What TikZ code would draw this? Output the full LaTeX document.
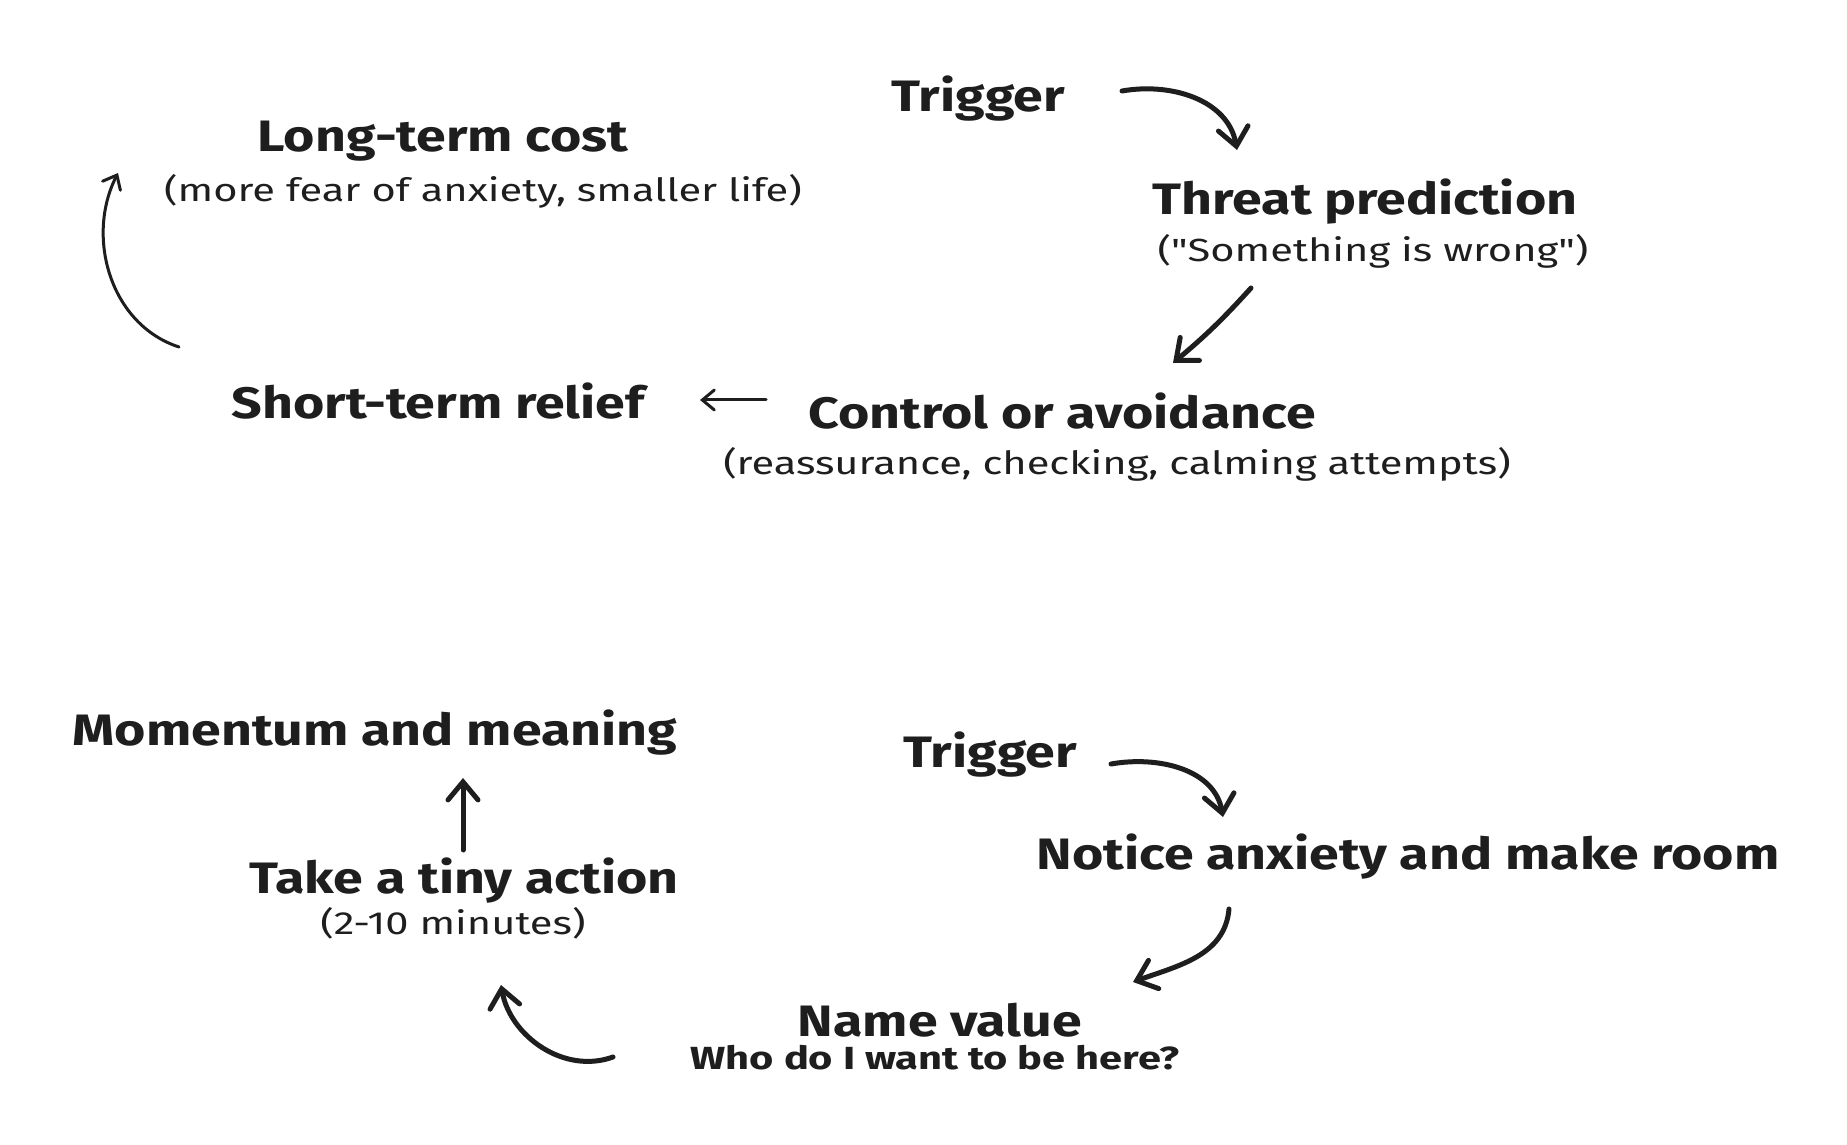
\documentclass[tikz,border=0pt]{standalone}
\usepackage{fontspec}
\setmainfont{Fira Sans}
\newfontfamily\titlefont[FakeStretch=1.22]{Fira Sans}
\newfontfamily\notefont[FakeStretch=1.3]{Fira Sans}
\usetikzlibrary{arrows.meta}
\definecolor{inkColor}{RGB}{30,30,30}
\tikzset{
  title/.style={text=inkColor,inner sep=0pt,outer sep=0pt,font=\titlefont\bfseries\fontsize{44}{52}\selectfont},
  note/.style={text=inkColor,inner sep=0pt,outer sep=0pt,font=\notefont\fontsize{32}{38}\selectfont},
  thick arrow/.style={draw=inkColor,line width=5pt,line cap=round,-{Straight Barb[length=18pt,width=30pt,line cap=round]}},
  thin arrow/.style={draw=inkColor,line width=3pt,line cap=round,-{Straight Barb[length=12pt,width=20pt,line cap=round]}}
}
\begin{document}
\begin{tikzpicture}[x=1pt,y=1pt]
\path[use as bounding box,fill=white] (0,0) rectangle (1847,1144);

% vicious cycle
\node[title] (trig1) at ( 978,1045) {Trigger};
\node[title] (threat) at (1365, 942) {Threat prediction};
\node[note]  (threatnote) at (1373, 893) {(\symbol{34}Something is wrong\symbol{34})};
\node[title] (control) at (1062, 733) {Control or avoidance};
\node[note]  (controlnote) at (1117, 680) {(reassurance, checking, calming attempts)};
\node[title] (relief) at ( 438, 743) {Short-term relief};
\node[title] (cost) at ( 443,1003) {Long-term cost};
\node[note]  (costnote) at ( 483, 953) {(more fear of anxiety, smaller life)};

\coordinate (trig1out) at (1122,1053);
\coordinate (threatin) at (1237, 994);
\coordinate (threatout) at (1251, 856);
\coordinate (controlin) at (1173, 781);
\coordinate (controlout) at ( 766, 744);
\coordinate (reliefin) at ( 700, 744);
\coordinate (reliefout) at ( 179, 797);
\coordinate (costin) at ( 118, 971);

\draw[thick arrow] (trig1out) to[out=10,in=100] (threatin);
\draw[thick arrow] (threatout) to[bend left=4] (controlin);
\draw[thin arrow] (controlout) -- (reliefin);
\draw[thin arrow] (reliefout) to[out=162,in=-117] (costin);

% values cycle
\node[title] (trig2) at ( 990, 389) {Trigger};
\node[title] (notice) at (1408, 287) {Notice anxiety and make room};
\node[title] (value) at ( 940, 124) {Name value};
\node[note,font=\notefont\bfseries\fontsize{32}{38}\selectfont] (valuenote) at ( 935,  86) {Who do I want to be here?};
\node[title] (tiny) at ( 464, 263) {Take a tiny action};
\node[note]  (tinynote) at ( 453, 221) {(2-10 minutes)};
\node[title] (momentum) at ( 375, 411) {Momentum and meaning};

\coordinate (trig2out) at (1111, 380);
\coordinate (noticein) at (1223, 327);
\coordinate (noticeout) at (1229, 235);
\coordinate (valuein) at (1133, 162);
\coordinate (valueout) at ( 613,  87);
\coordinate (tinyin) at ( 501, 159);
\coordinate (tinyout) at ( 463, 294);
\coordinate (momentumin) at ( 463, 366);

\draw[thick arrow] (trig2out) to[out=10,in=100] (noticein);
\draw[thick arrow] (noticeout) to[out=-95,in=20] (valuein);
\draw[thick arrow] (valueout) to[out=-160,in=-80] (tinyin);
\draw[thick arrow] (tinyout) -- (momentumin);
\end{tikzpicture}
\end{document}
